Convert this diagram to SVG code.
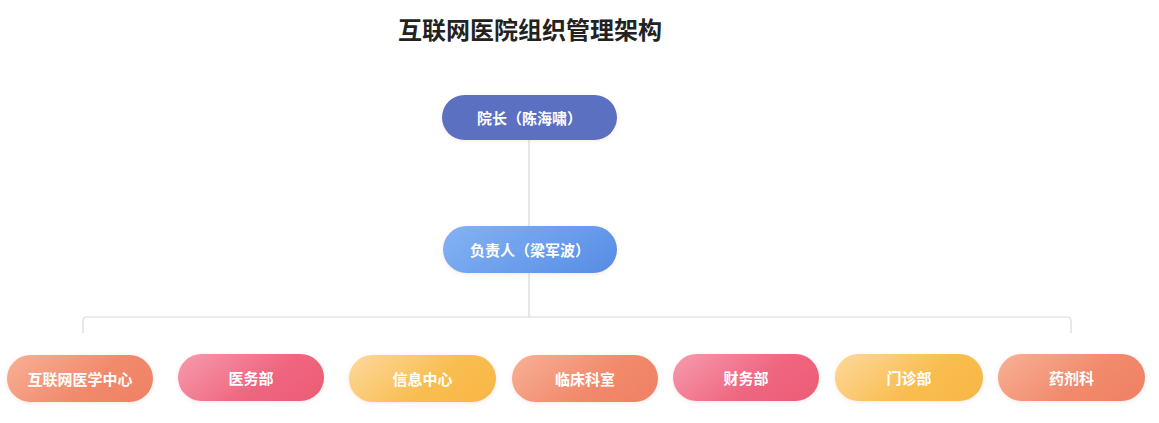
<svg xmlns="http://www.w3.org/2000/svg" width="1159" height="423" viewBox="0 0 1159 423">
<style>
.t{font-family:"Noto Sans CJK SC","Noto Sans",sans-serif;font-weight:bold;fill:#fff;font-size:15px;text-anchor:middle;dominant-baseline:central}
.title{font-family:"Noto Sans CJK SC","Noto Sans",sans-serif;font-weight:bold;fill:#222;font-size:24px;text-anchor:middle;dominant-baseline:central}
.c{fill:none;stroke:#d9d9d9;stroke-width:1.2}
</style>
<defs>
<linearGradient id="gs" x1="0" y1="0.3" x2="1" y2="0.7"><stop offset="0" stop-color="#f7ab90"/><stop offset="0.6" stop-color="#f18a6c"/><stop offset="1" stop-color="#f08265"/></linearGradient>
<linearGradient id="gp" x1="0" y1="0.3" x2="1" y2="0.7"><stop offset="0" stop-color="#f594a7"/><stop offset="0.6" stop-color="#ef6680"/><stop offset="1" stop-color="#ed5e78"/></linearGradient>
<linearGradient id="gy" x1="0" y1="0.3" x2="1" y2="0.7"><stop offset="0" stop-color="#fcd592"/><stop offset="0.6" stop-color="#f9bd50"/><stop offset="1" stop-color="#f8b847"/></linearGradient>
<linearGradient id="gb" x1="0" y1="0.3" x2="1" y2="0.7"><stop offset="0" stop-color="#80b0f2"/><stop offset="1" stop-color="#5a8fe6"/></linearGradient>
<filter id="sh" x="-20%" y="-40%" width="140%" height="180%"><feDropShadow dx="0" dy="1" stdDeviation="2" flood-color="#e08080" flood-opacity="0.2"/></filter>
</defs>
<rect width="1159" height="423" fill="#fff"/>
<text class="title" x="530" y="28">互联网医院组织管理架构</text>
<g id="connectors">
<line class="c" x1="529" y1="140" x2="529" y2="226"/>
<line class="c" x1="529" y1="273" x2="529" y2="317"/>
<path class="c" d="M83 333 V321 Q83 317 87 317 H1067 Q1071 317 1071 321 V333"/>
</g>
<g id="n-dean"><rect x="442" y="95" width="175" height="45" rx="22.5" fill="#5b6fc1" filter="url(#sh)"/><text class="t" x="529.5" y="117.5">院长（陈海啸）</text></g>
<g id="n-lead"><rect x="443" y="226" width="174" height="47" rx="23.5" fill="url(#gb)" filter="url(#sh)"/><text class="t" x="530" y="249.5">负责人（梁军波）</text></g>
<g id="n1"><rect x="7" y="355" width="146" height="47" rx="23.5" fill="url(#gs)" filter="url(#sh)"/><text class="t" x="80" y="378.5">互联网医学中心</text></g>
<g id="n2"><rect x="178" y="354" width="146" height="47" rx="23.5" fill="url(#gp)" filter="url(#sh)"/><text class="t" x="251" y="377.5">医务部</text></g>
<g id="n3"><rect x="349" y="355" width="147" height="47" rx="23.5" fill="url(#gy)" filter="url(#sh)"/><text class="t" x="422.5" y="378.5">信息中心</text></g>
<g id="n4"><rect x="512" y="355" width="146" height="47" rx="23.5" fill="url(#gs)" filter="url(#sh)"/><text class="t" x="585" y="378.5">临床科室</text></g>
<g id="n5"><rect x="673" y="354" width="146" height="47" rx="23.5" fill="url(#gp)" filter="url(#sh)"/><text class="t" x="746" y="377.5">财务部</text></g>
<g id="n6"><rect x="835" y="354" width="148" height="47" rx="23.5" fill="url(#gy)" filter="url(#sh)"/><text class="t" x="909" y="377.5">门诊部</text></g>
<g id="n7"><rect x="998" y="354" width="147" height="47" rx="23.5" fill="url(#gs)" filter="url(#sh)"/><text class="t" x="1071.5" y="377.5">药剂科</text></g>
</svg>
